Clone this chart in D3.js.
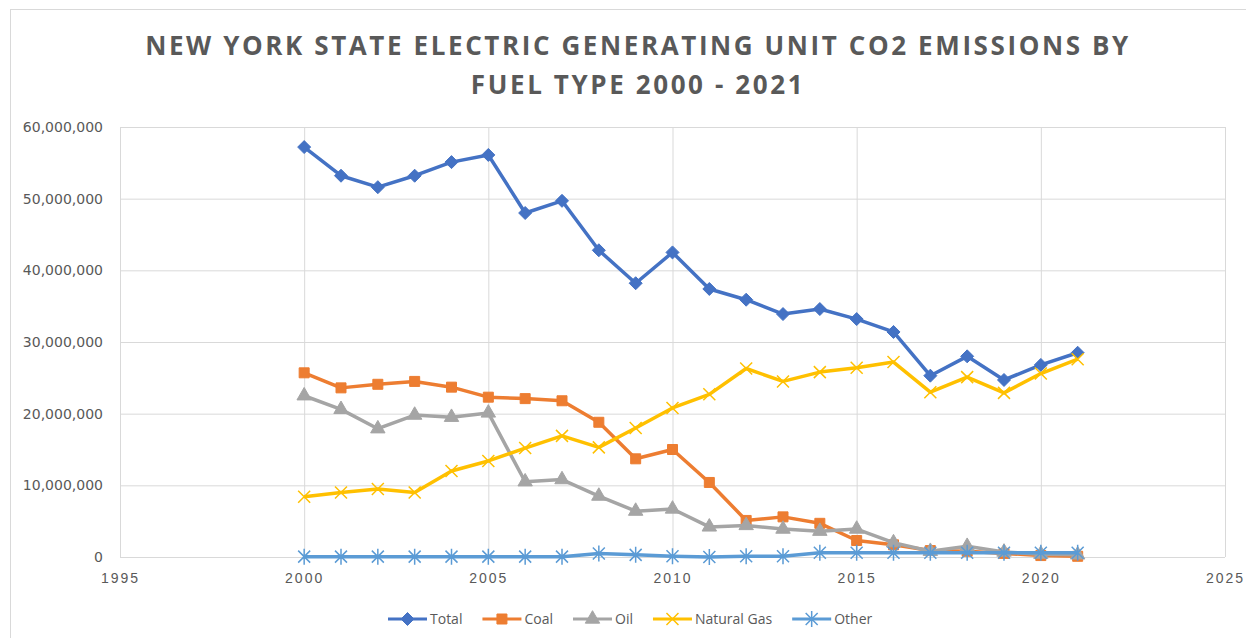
<!DOCTYPE html>
<html>
<head>
<meta charset="utf-8">
<script src="https://cdn.jsdelivr.net/npm/d3@7"></script>
<style>
  body { margin: 0; background: #fff; }
  svg { font-family: "Open Sans", "Noto Sans", sans-serif; }
</style>
</head>
<body>
<svg width="1246" height="638"></svg>
<script>
// data (million tonnes CO2)
const years = d3.range(2000, 2022);
const total = [57.2, 53.2, 51.6, 53.2, 55.1, 56.1, 48.0, 49.7, 42.8, 38.2, 42.5, 37.4, 35.9, 33.9, 34.6, 33.2, 31.4, 25.3, 28.0, 24.7, 26.8, 28.5];
const coal = [25.7, 23.6, 24.1, 24.5, 23.7, 22.3, 22.1, 21.8, 18.8, 13.7, 15.0, 10.4, 5.1, 5.6, 4.7, 2.3, 1.7, 0.9, 0.8, 0.5, 0.2, 0.1];
const oil = [22.5, 20.6, 17.9, 19.8, 19.5, 20.1, 10.5, 10.8, 8.5, 6.4, 6.7, 4.2, 4.4, 3.9, 3.6, 3.9, 2.0, 0.8, 1.5, 0.7, 0.4, 0.3];
const gas = [8.4, 9.0, 9.5, 9.0, 12.0, 13.4, 15.2, 16.9, 15.3, 18.0, 20.8, 22.7, 26.3, 24.5, 25.8, 26.4, 27.2, 23.0, 25.1, 22.9, 25.6, 27.6];
const other = [0.05, 0.05, 0.05, 0.05, 0.05, 0.05, 0.05, 0.05, 0.5, 0.3, 0.1, 0.0, 0.1, 0.1, 0.6, 0.6, 0.6, 0.6, 0.6, 0.6, 0.6, 0.6];
const yTicks = [0, 10e6, 20e6, 30e6, 40e6, 50e6, 60e6];
const xTicks = [1995, 2000, 2005, 2010, 2015, 2020, 2025];

const series = [
  { name: "Total", color: "#4472C4", marker: "diamond", values: total },
  { name: "Coal", color: "#ED7D31", marker: "square", values: coal },
  { name: "Oil", color: "#A5A5A5", marker: "triangle", values: oil },
  { name: "Natural Gas", color: "#FFC000", marker: "x", values: gas },
  { name: "Other", color: "#5B9BD5", marker: "star", values: other }
];

const svg = d3.select("svg");
const margin = { top: 127, right: 21, bottom: 81, left: 120 };
const width = 1246 - margin.left - margin.right;
const height = 638 - margin.top - margin.bottom;

// chart border
svg.append("rect")
  .attr("x", 10.5).attr("y", 9.5)
  .attr("width", 1240).attr("height", 640)
  .attr("fill", "none").attr("stroke", "#d9d9d9");

// title
const title = svg.append("text")
  .attr("text-anchor", "middle")
  .attr("fill", "#595959")
  .style("font-size", "26px")
  .style("font-weight", "bold")
  .style("letter-spacing", "2.6px");
title.append("tspan").attr("x", 638).attr("y", 55).text("NEW YORK STATE ELECTRIC GENERATING UNIT CO2 EMISSIONS BY");
title.append("tspan").attr("x", 638).attr("y", 94).text("FUEL TYPE 2000 - 2021");

const x = d3.scaleLinear().domain([1995, 2025]).range([0, width]);
const y = d3.scaleLinear().domain([0, 60e6]).range([height, 0]);

const g = svg.append("g").attr("transform", `translate(${margin.left},${margin.top})`);

// gridlines
g.append("g")
  .call(d3.axisLeft(y).tickValues(yTicks).tickSize(-width).tickFormat(""))
  .call(a => a.select(".domain").remove())
  .selectAll("line").attr("stroke", "#d9d9d9");
g.append("g")
  .attr("transform", `translate(0,${height})`)
  .call(d3.axisBottom(x).tickValues(xTicks).tickSize(-height).tickFormat(""))
  .call(a => a.select(".domain").remove())
  .selectAll("line").attr("stroke", "#d9d9d9");

// axis labels
g.append("g")
  .call(d3.axisLeft(y).tickValues(yTicks).tickSize(0).tickPadding(17).tickFormat(d3.format(",")))
  .call(a => a.select(".domain").remove())
  .selectAll("text")
  .attr("fill", "#595959")
  .style("font-family", "'DejaVu Sans', sans-serif")
  .style("font-size", "14px");
g.append("g")
  .attr("transform", `translate(0,${height})`)
  .call(d3.axisBottom(x).tickValues(xTicks).tickSize(0).tickPadding(16).tickFormat(d3.format("d")))
  .call(a => a.select(".domain").remove())
  .selectAll("text")
  .attr("fill", "#595959")
  .style("font-size", "14px")
  .style("letter-spacing", "2px");

const markerPath = {
  diamond: "M0,-6.5L6.5,0L0,6.5L-6.5,0Z",
  square: d3.symbol(d3.symbolSquare, 100)(),
  triangle: d3.symbol(d3.symbolTriangle, 90)(),
  x: "M-6,-6L6,6M-6,6L6,-6",
  star: "M-6,-6L6,6M-6,6L6,-6M0,-8L0,8"
};

function drawMarker(sel, s) {
  const stroked = s.marker === "x" || s.marker === "star";
  sel.append("path")
    .attr("d", markerPath[s.marker])
    .attr("fill", stroked ? "none" : s.color)
    .attr("stroke", s.color)
    .attr("stroke-width", stroked ? 1.5 : 1);
}

const line = d3.line().x((d, i) => x(years[i])).y(d => y(d * 1e6));

series.forEach(s => {
  g.append("path")
    .datum(s.values)
    .attr("fill", "none")
    .attr("stroke", s.color)
    .attr("stroke-width", 3.5)
    .attr("stroke-linejoin", "round")
    .attr("d", line);
  g.selectAll(null)
    .data(s.values)
    .enter().append("g")
    .attr("transform", (d, i) => `translate(${x(years[i])},${y(d * 1e6)})`)
    .each(function () { drawMarker(d3.select(this), s); });
});

// legend
const legend = svg.append("g").attr("transform", "translate(0,619)");
let lx = 388;
series.forEach(s => {
  const item = legend.append("g").attr("transform", `translate(${lx},0)`);
  item.append("line").attr("x1", 0).attr("x2", 39).attr("stroke", s.color).attr("stroke-width", 3);
  const m = item.append("g").attr("transform", "translate(19.5,0)");
  drawMarker(m, s);
  const t = item.append("text")
    .attr("x", 42).attr("dy", "0.35em")
    .attr("fill", "#595959")
    .style("font-size", "14px")
    .text(s.name);
  lx += 42 + t.node().getComputedTextLength() + 20;
});
</script>
</body>
</html>
